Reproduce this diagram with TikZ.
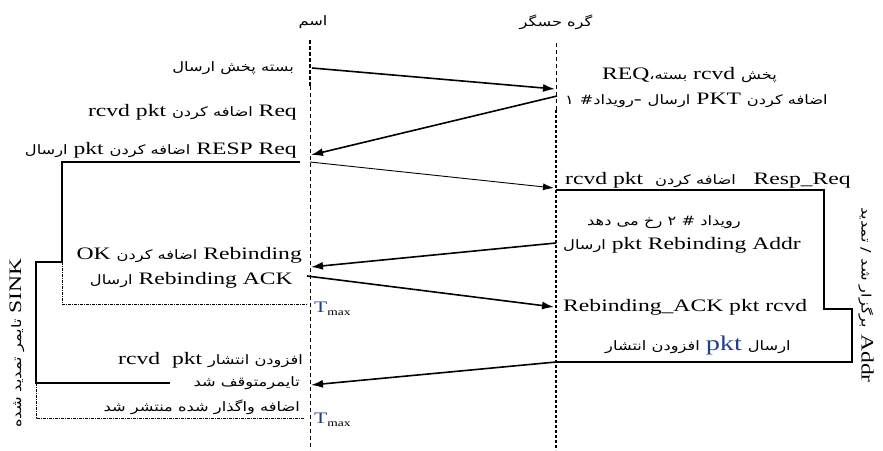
\documentclass[tikz,border=0pt]{standalone}
\usepackage{fontspec}
\setmainfont[FakeStretch=1.35]{Liberation Serif}
\newfontfamily\fa[Script=Arabic,FakeStretch=1.25]{DejaVu Sans}
\TeXXeTstate=1
\usetikzlibrary{arrows.meta}
\definecolor{tblue}{rgb}{0.12,0.25,0.55}
\newcommand{\F}[1]{\beginR{\fa\fontsize{13}{15}\selectfont #1}\endR}
\newcommand{\Tm}{{\fontsize{16}{16}\selectfont\textcolor{tblue}{T}}\raisebox{-3pt}{\fontsize{10}{10}\selectfont max}}
\begin{document}
\begin{tikzpicture}[x=1pt,y=-1pt,
  lat/.style={inner sep=0pt, font=\fontsize{17.5}{19}\selectfont},
  lbl/.style={lat, anchor=east},
  rbl/.style={lat, anchor=west},
  msg/.style={line width=1.6pt, -{Latex[length=12pt,width=8pt]}},
  thinmsg/.style={line width=0.9pt, -{Latex[length=11pt,width=7pt]}},
  bar/.style={line width=2.8pt},
  tbox/.style={line width=0.8pt, dash pattern=on 3pt off 1pt on 1pt off 1pt},
  thinlife/.style={line width=0.8pt, dash pattern=on 4pt off 3pt},
  thicklife/.style={line width=2.4pt, dash pattern=on 4pt off 2pt},
]
\useasboundingbox (0,0) rectangle (883,450);

% lifelines
\coordinate (sA) at (310,40); \coordinate (sB) at (310,86); \coordinate (sC) at (310,450);
\draw[thicklife] (sA)--(sB);
\draw[thinlife] (sB)--(sC);
\coordinate (nA) at (556,43); \coordinate (nB) at (556,110); \coordinate (nC) at (556,450);
\draw[thinlife] (nA)--(nB);
\draw[thicklife, line width=2.4pt, dash pattern=on 3pt off 2pt] (nB)--(nC);

\node[inner sep=0pt] (nameS) at (313,22) {\F{اسم}};
\node[inner sep=0pt] (nameN) at (556,22) {\F{گره حسگر}};

% messages
\coordinate (a1) at (312,68);  \coordinate (b1) at (555,89);
\coordinate (a2) at (557,96);  \coordinate (b2) at (311,155);
\coordinate (a3) at (310,162); \coordinate (b3) at (554,188);
\coordinate (a4) at (556,243); \coordinate (b4) at (311,267);
\coordinate (a5) at (307,276); \coordinate (b5) at (554,307);
\coordinate (a6) at (556,362); \coordinate (b6) at (311,385);
\draw[msg] (a1)--(b1);
\draw[msg] (a2)--(b2);
\draw[thinmsg] (a3)--(b3);
\draw[msg] (a4)--(b4);
\draw[msg] (a5)--(b5);
\draw[msg] (a6)--(b6);

% left bars
\coordinate (p1) at (300,162); \coordinate (p2) at (62,162); \coordinate (p3) at (62,262);
\coordinate (p4) at (36,262); \coordinate (p5) at (36,383); \coordinate (p6) at (170,383);
\draw[bar] (p1)--(p2)--(p3)--(p4)--(p5)--(p6);
\coordinate (q1) at (62,304); \coordinate (q2) at (307,304);
\coordinate (q3) at (36,418); \coordinate (q4) at (305,418);
\draw[tbox] (p3)--(q1)--(q2);
\draw[tbox] (p5)--(q3)--(q4);
\node[inner sep=0pt, anchor=west] (tm1) at (314,309) {\Tm};
\node[inner sep=0pt, anchor=west] (tm2) at (314,420) {\Tm};

% right bar
\coordinate (r1) at (556,190); \coordinate (r2) at (824,190); \coordinate (r3) at (824,309);
\coordinate (r4) at (852,309); \coordinate (r5) at (852,362); \coordinate (r6) at (556,362);
\draw[bar] (r1)--(r2)--(r3)--(r4)--(r5)--(r6);

% left labels
\node[lbl] (l1) at (294,68) {\F{بسته پخش ارسال}};
\node[lbl] (l2) at (297,112) {rcvd pkt \F{اضافه کردن} Req};
\node[lbl] (l3) at (297,150) {\F{ارسال} pkt \F{اضافه کردن} RESP Req};
\node[lbl] (l4) at (302,255) {OK \F{اضافه کردن} Rebinding};
\node[lbl] (l5) at (293,280) {\F{ارسال} Rebinding ACK};
\node[lbl] (l6) at (303,360) {rcvd\ \ pkt \F{افزودن انتشار}};
\node[lbl] (l7) at (300,383) {\F{تایمرمتوقف شد}};
\node[lbl] (l8) at (300,407) {\F{اضافه واگذار شده منتشر شد}};

% right labels
\node[rbl] (r1t) at (602,75) {REQ\F{بسته،} rcvd \F{پخش}};
\node[rbl] (r2t) at (565,100) {\F{۱} \F{\#}\F{رویداد}- \F{ارسال} PKT \F{اضافه کردن}};
\node[rbl] (r3t) at (565,180) {rcvd pkt \ \F{اضافه کردن}\ \ \ Resp\_Req};
\node[rbl] (r4t) at (587,222) {\F{رویداد \# ۲ رخ می دهد}};
\node[rbl] (r5t) at (563,245) {\F{ارسال} pkt Rebinding Addr};
\node[rbl] (r6t) at (563,307) {Rebinding\_ACK pkt rcvd};
\node[rbl] (r7t) at (605,345) {\F{افزودن انتشار} {\fontsize{21}{21}\selectfont\textcolor{tblue}{pkt}} \F{ارسال}};

% vertical labels
\node[lat, rotate=-90] (vr) at (866,295) {\F{برگزار شد / تمدید} Addr};
\node[lat, rotate=90] (vl) at (17,343) {\F{تایمر تمدید شده} SINK};
\end{tikzpicture}
\end{document}
